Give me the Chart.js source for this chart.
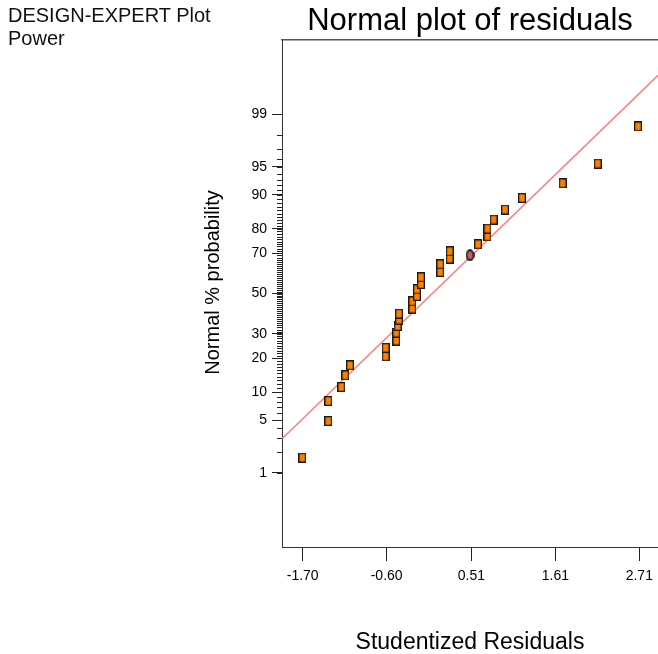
<!DOCTYPE html>
<html>
<head>
<meta charset="utf-8">
<script src="https://cdn.jsdelivr.net/npm/chart.js@4.4.1/dist/chart.umd.min.js"></script>
<style>
	body { margin: 0; background: #fff; }
	#wrap { position: relative; width: 658px; height: 654px; overflow: hidden; }
	#note { position: absolute; left: 8px; top: 4px; font: 20px/22.7px "Liberation Sans", Arial, sans-serif; color: #111; }
</style>
</head>
<body>
<div id="wrap">
	<canvas id="grafica" width="658" height="654"></canvas>
	<div id="note">DESIGN-EXPERT Plot<br>Power</div>
</div>
<script>
// studentized residuals and their normal % probability
const resX = [-1.705, -1.365, -1.365, -1.194, -1.142, -1.080, -0.613, -0.613, -0.474, -0.474, -0.455, -0.438, -0.438, -0.264, -0.264, -0.203, -0.203, -0.150, -0.150, 0.103, 0.103, 0.226, 0.226, 0.597, 0.721, 0.721, 0.802, 0.950, 1.173, 1.706, 2.165, 2.693];
const resPct = [1.66, 4.90, 8.15, 11.26, 14.43, 17.59, 20.78, 24.07, 27.09, 30.64, 33.69, 36.77, 39.74, 42.27, 46.02, 48.76, 52.23, 54.97, 58.39, 61.06, 64.82, 67.53, 70.85, 73.89, 77.16, 80.07, 83.17, 86.24, 89.29, 92.40, 95.43, 98.50];
// highlighted run
const markX = [0.492];
const markPct = [69.05];
// reference line
const fitX = [-1.97, 2.955];
const fitPct = [2.98, 99.77];
// axes
const xTicks = [-1.70, -0.60, 0.51, 1.61, 2.71];
const yLabels = [1, 5, 10, 20, 30, 50, 70, 80, 90, 95, 99];
const yMinor = [];
for (let i = 1; i <= 99; i++) yMinor.push(i);

// inverse normal cdf (Acklam)
function probit(p) {
	const a = [-3.969683028665376e+01, 2.209460984245205e+02, -2.759285104469687e+02, 1.383577518672690e+02, -3.066479806614716e+01, 2.506628277459239e+00];
	const b = [-5.447609879822406e+01, 1.615858368580409e+02, -1.556989798598866e+02, 6.680131188771972e+01, -1.328068155288572e+01];
	const c = [-7.784894002430293e-03, -3.223964580411365e-01, -2.400758277161838e+00, -2.549732539343734e+00, 4.374664141464968e+00, 2.938163982698783e+00];
	const d = [7.784695709041462e-03, 3.224671290700398e-01, 2.445134137142996e+00, 3.754408661907416e+00];
	const plow = 0.02425;
	let q, r;
	if (p < plow) {
		q = Math.sqrt(-2 * Math.log(p));
		return (((((c[0]*q+c[1])*q+c[2])*q+c[3])*q+c[4])*q+c[5]) / ((((d[0]*q+d[1])*q+d[2])*q+d[3])*q+1);
	}
	if (p <= 1 - plow) {
		q = p - 0.5; r = q * q;
		return (((((a[0]*r+a[1])*r+a[2])*r+a[3])*r+a[4])*r+a[5])*q / (((((b[0]*r+b[1])*r+b[2])*r+b[3])*r+b[4])*r+1);
	}
	q = Math.sqrt(-2 * Math.log(1 - p));
	return -(((((c[0]*q+c[1])*q+c[2])*q+c[3])*q+c[4])*q+c[5]) / ((((d[0]*q+d[1])*q+d[2])*q+d[3])*q+1);
}

function pts(xs, ps) {
	return xs.map((x, i) => ({ x: x, y: probit(ps[i] / 100) }));
}

// point glyphs
function glyph(w, h, fill, round) {
	const c = document.createElement('canvas');
	c.width = w; c.height = h;
	const g = c.getContext('2d');
	g.fillStyle = fill;
	g.strokeStyle = '#1a1a1a';
	g.lineWidth = round ? 1.8 : 1.3;
	if (round) {
		g.beginPath();
		g.ellipse(w / 2, h / 2, w / 2 - 1, h / 2 - 1, 0, 0, Math.PI * 2);
		g.fill(); g.stroke();
	} else {
		g.fillRect(0.5, 0.5, w - 1, h - 1);
		g.strokeRect(0.65, 0.65, w - 1.3, h - 1.3);
	}
	return c;
}

// short ticks for every whole percent
const minorTicks = {
	id: 'minorTicks',
	afterDraw(chart) {
		const y = chart.scales.y;
		const left = chart.chartArea.left;
		const ctx = chart.ctx;
		ctx.save();
		ctx.strokeStyle = '#222';
		ctx.lineWidth = 1;
		yMinor.forEach(p => {
			const py = Math.round(y.getPixelForValue(probit(p / 100))) + 0.5;
			ctx.beginPath();
			ctx.moveTo(left - 5, py);
			ctx.lineTo(left, py);
			ctx.stroke();
		});
		ctx.restore();
	}
};

const font = '"Liberation Sans", Arial, sans-serif';

new Chart(document.getElementById('grafica'), {
	type: 'scatter',
	data: {
		datasets: [{
			data: pts(resX, resPct),
			pointStyle: glyph(8, 10, '#ff8000', false),
			order: 0
		}, {
			data: pts(markX, markPct),
			pointStyle: glyph(9, 12, '#c06464', true),
			order: 0
		}, {
			type: 'line',
			data: pts(fitX, fitPct),
			borderColor: '#ff8080',
			borderWidth: 1.5,
			pointRadius: 0,
			order: 1
		}]
	},
	options: {
		responsive: false,
		animation: false,
		layout: { autoPadding: false, padding: { left: 201, right: 0, top: 0, bottom: 0 } },
		plugins: {
			legend: { display: false },
			tooltip: { enabled: false },
			title: {
				display: true,
				fullSize: false,
				text: 'Normal plot of residuals',
				color: '#000',
				font: { family: font, size: 31, weight: 'normal' },
				padding: { top: 3, bottom: 0 }
			}
		},
		scales: {
			x: {
				type: 'linear',
				min: -1.971,
				max: 2.955,
				afterBuildTicks: s => { s.ticks = xTicks.map(v => ({ value: v })); },
				afterFit: s => { s.height = 107; s.paddingLeft = 0; s.paddingRight = 0; },
				grid: { drawOnChartArea: false, tickLength: 14, color: '#222' },
				border: { color: '#333', width: 1 },
				ticks: {
					padding: 7,
					color: '#000',
					font: { family: font, size: 14 },
					callback: v => v.toFixed(2)
				},
				title: {
					display: true,
					text: 'Studentized Residuals',
					color: '#000',
					font: { family: font, size: 23 },
					padding: { top: 0, bottom: -2 }
				}
			},
			x2: {
				type: 'linear',
				position: 'top',
				min: -1.971,
				max: 2.955,
				afterFit: s => { s.height = 0; s.paddingLeft = 0; s.paddingRight = 0; },
				grid: { display: false, drawTicks: false },
				ticks: { display: false },
				border: { color: '#555', width: 1.5 }
			},
			y: {
				type: 'linear',
				min: -3.29,
				max: 3.29,
				afterBuildTicks: s => { s.ticks = yLabels.map(p => ({ value: probit(p / 100) })); },
				afterFit: s => { s.width = 81; },
				grid: { drawOnChartArea: false, tickLength: 10, color: '#222' },
				border: { color: '#333', width: 1 },
				ticks: {
					padding: 5,
					color: '#000',
					font: { family: font, size: 14 },
					callback: (v, i) => String(yLabels[i])
				},
				title: {
					display: true,
					text: '    Normal % probability',
					color: '#000',
					font: { family: font, size: 20 },
					padding: { top: 0, bottom: 0 }
				}
			}
		}
	},
	plugins: [minorTicks]
});
</script>
</body>
</html>
